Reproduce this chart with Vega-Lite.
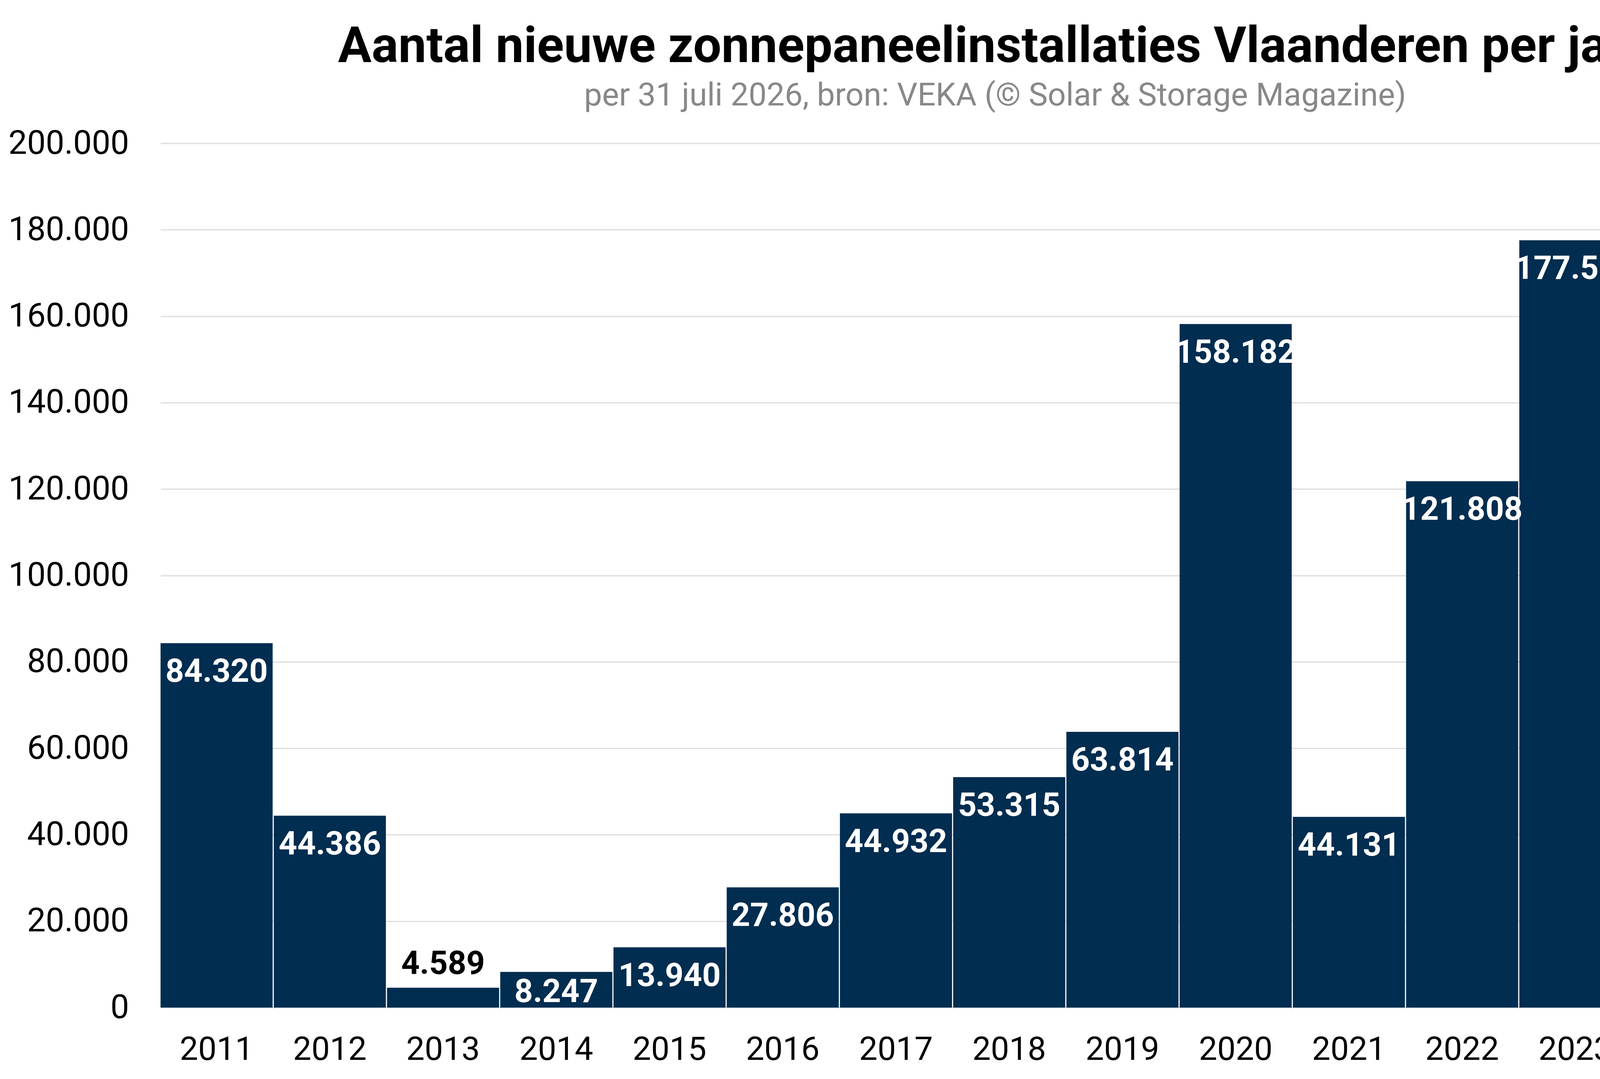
{
  "$schema": "https://vega.github.io/schema/vega-lite/v6.json",
  "autosize": {"type": "fit", "contains": "padding"},
  "padding": {"left": 20, "top": 57, "right": 51, "bottom": 33},
  "width": 5097,
  "height": 2763,
  "background": "white",
  "config": {
    "view": {"stroke": null},
    "font": "Roboto",
    "locale": {
      "number": {
        "decimal": ",",
        "thousands": ".",
        "grouping": [3],
        "currency": ["€ ", ""]
      }
    }
  },
  "title": {
    "text": "Aantal nieuwe zonnepaneelinstallaties Vlaanderen per jaar",
    "subtitle": "per 31 juli 2026, bron: VEKA (© Solar & Storage Magazine)",
    "anchor": "middle",
    "frame": "bounds",
    "dx": 14,
    "font": "Roboto",
    "fontSize": 128,
    "fontWeight": "bold",
    "color": "#000000",
    "subtitleFont": "Roboto",
    "subtitleFontSize": 82,
    "subtitleColor": "#888888",
    "subtitlePadding": 19,
    "offset": 38
  },
  "data": {
    "values": [
      {"jaar": "2011", "aantal": 84320},
      {"jaar": "2012", "aantal": 44386},
      {"jaar": "2013", "aantal": 4589},
      {"jaar": "2014", "aantal": 8247},
      {"jaar": "2015", "aantal": 13940},
      {"jaar": "2016", "aantal": 27806},
      {"jaar": "2017", "aantal": 44932},
      {"jaar": "2018", "aantal": 53315},
      {"jaar": "2019", "aantal": 63814},
      {"jaar": "2020", "aantal": 158182},
      {"jaar": "2021", "aantal": 44131},
      {"jaar": "2022", "aantal": 121808},
      {"jaar": "2023", "aantal": 177562},
      {"jaar": "2024", "aantal": 80675},
      {"jaar": "2025", "aantal": 60761},
      {"jaar": "2026", "aantal": 27434}
    ]
  },
  "encoding": {
    "x": {
      "field": "jaar",
      "type": "ordinal",
      "title": null,
      "scale": {"paddingInner": 0.01, "paddingOuter": 0},
      "axis": {
        "labelAngle": 0,
        "labelFont": "Roboto",
        "labelFontSize": 84,
        "labelColor": "#000000",
        "labelBaseline": "alphabetic",
        "labelPadding": 133,
        "labelLimit": 0,
        "ticks": false,
        "tickSize": 0,
        "domain": true,
        "domainColor": "#c5d3df",
        "domainWidth": 3,
        "grid": false
      }
    },
    "y": {
      "field": "aantal",
      "type": "quantitative",
      "title": null,
      "scale": {"domain": [0, 200000], "nice": false},
      "axis": {
        "values": [0, 20000, 40000, 60000, 80000, 100000, 120000, 140000, 160000, 180000, 200000],
        "format": ",d",
        "labelFont": "Roboto",
        "labelFontSize": 85,
        "labelColor": "#000000",
        "labelPadding": 81,
        "labelLimit": 0,
        "ticks": false,
        "tickSize": 0,
        "domain": false,
        "grid": true,
        "gridColor": "#dddddd",
        "gridWidth": 3
      }
    }
  },
  "layer": [
    {
      "mark": {"type": "bar", "color": "#002d50"}
    },
    {
      "transform": [{"filter": "datum.aantal >= 10000"}],
      "mark": {
        "type": "text",
        "baseline": "alphabetic",
        "align": "center",
        "dy": 99,
        "font": "Roboto",
        "fontSize": 83,
        "fontWeight": "bold",
        "color": "#ffffff"
      },
      "encoding": {
        "text": {"field": "aantal", "type": "quantitative", "format": ",d"}
      }
    },
    {
      "transform": [{"filter": "datum.aantal >= 5000 && datum.aantal < 10000"}],
      "mark": {
        "type": "text",
        "baseline": "alphabetic",
        "align": "center",
        "dy": -14,
        "font": "Roboto",
        "fontSize": 83,
        "fontWeight": "bold",
        "color": "#ffffff"
      },
      "encoding": {
        "y": {"datum": 0, "type": "quantitative"},
        "text": {"field": "aantal", "type": "quantitative", "format": ",d"}
      }
    },
    {
      "transform": [{"filter": "datum.aantal < 5000"}],
      "mark": {
        "type": "text",
        "baseline": "alphabetic",
        "align": "center",
        "dy": -35,
        "font": "Roboto",
        "fontSize": 83,
        "fontWeight": "bold",
        "color": "#000000"
      },
      "encoding": {
        "text": {"field": "aantal", "type": "quantitative", "format": ",d"}
      }
    }
  ]
}
